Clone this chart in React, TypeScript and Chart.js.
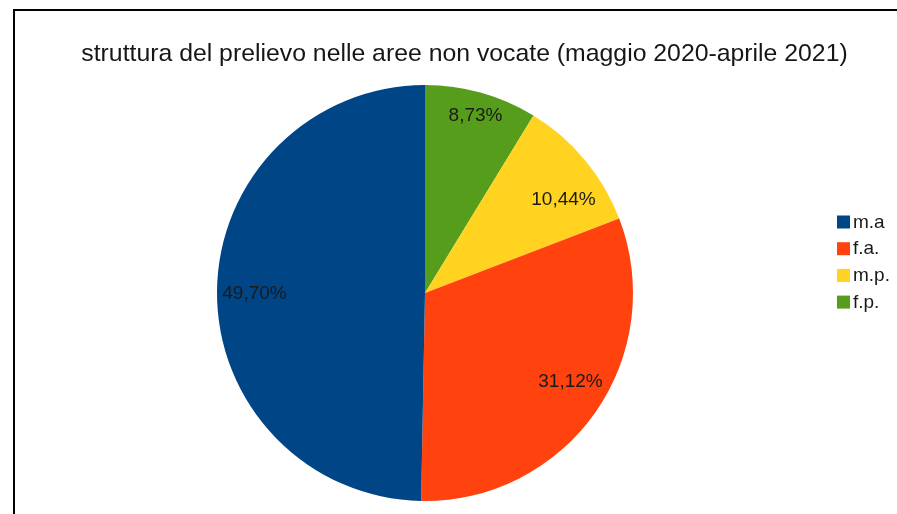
import React, { useEffect, useRef } from "react";
import { Chart, registerables } from "chart.js";

Chart.register(...registerables);

const TITLE = "struttura del prelievo nelle aree non vocate (maggio 2020-aprile 2021)";
const categories = ["m.a", "f.a.", "m.p.", "f.p."];
const shares = [49.7, 31.12, 10.44, 8.73];
const shareLabels = ["49,70%", "31,12%", "10,44%", "8,73%"];
const colors = ["#004586", "#ff420e", "#ffd320", "#579d1c"];

const FONT = "'Liberation Sans', Arial, sans-serif";

export default function App() {
  const ref = useRef<HTMLCanvasElement | null>(null);

  useEffect(() => {
    const canvas = ref.current;
    if (!canvas) return;
    // LibreOffice draws counter-clockwise from the top; Chart.js draws clockwise,
    // so the drawing order is reversed while the legend keeps the original order.
    const order = [3, 2, 1, 0];
    const labelPlugin = {
      id: "lo-decor",
      afterDraw(chart: any) {
        const ctx = chart.ctx as CanvasRenderingContext2D;
        ctx.save();
        // title
        ctx.fillStyle = "#161616";
        ctx.font = `24.8px ${FONT}`;
        ctx.textAlign = "center";
        ctx.textBaseline = "alphabetic";
        ctx.fillText(TITLE, 464.5, 61);

        const meta = chart.getDatasetMeta(0);
        ctx.font = `19px ${FONT}`;
        const capH = 14.5;
        const norm = (a: number) => {
          let v = a % (Math.PI * 2);
          if (v < 0) v += Math.PI * 2;
          return v;
        };
        meta.data.forEach((arc: any, i: number) => {
          const p = arc.getProps(["x", "y", "startAngle", "endAngle", "outerRadius"], true);
          const r = p.outerRadius;
          const mid = (p.startAngle + p.endAngle) / 2;
          const dx = Math.cos(mid);
          const dy = Math.sin(mid);
          const text = shareLabels[order[i]];
          const w = ctx.measureText(text).width;
          const hw = w / 2;
          const hh = capH / 2;
          // inner-corner placement: the corner nearest the centre sits on the mid ray
          const t0 = r * 0.665;
          const sx = Math.abs(dx) < 0.2 ? 0 : Math.sign(dx);
          const sy = Math.abs(dy) < 0.2 ? 0 : Math.sign(dy);
          let cx = p.x + dx * t0 + sx * hw;
          let cy = p.y + dy * t0 + sy * hh;
          const inside = (x: number, y: number) => {
            const ex = x - p.x;
            const ey = y - p.y;
            if (Math.hypot(ex, ey) > r) return false;
            const a = norm(Math.atan2(ey, ex) - p.startAngle);
            return a <= norm(p.endAngle - p.startAngle) || p.endAngle - p.startAngle >= Math.PI * 2;
          };
          const fits = [
            [cx - hw, cy - hh],
            [cx + hw, cy - hh],
            [cx - hw, cy + hh],
            [cx + hw, cy + hh],
          ].every(([x, y]) => inside(x, y));
          if (!fits) {
            // fallback: push outward until the farthest corner is near the rim
            const target = r * 0.97;
            let t = 0;
            for (let s = 0; s < 400; s++) {
              const fx = dx * t + Math.sign(dx || 1) * hw;
              const fy = dy * t + Math.sign(dy || 1) * hh;
              if (Math.hypot(fx, fy) >= target) break;
              t += 0.5;
            }
            cx = p.x + dx * t;
            cy = p.y + dy * t;
          }
          ctx.textAlign = "center";
          ctx.textBaseline = "alphabetic";
          ctx.fillStyle = "#1a1a1a";
          ctx.fillText(text, cx, cy + hh);
        });

        // legend
        ctx.font = `19px ${FONT}`;
        ctx.textAlign = "left";
        const y0 = 222;
        const step = 26.7;
        categories.forEach((c, i) => {
          const y = y0 + i * step;
          ctx.fillStyle = colors[i];
          ctx.fillRect(837, y - 6.5, 13, 13);
          ctx.fillStyle = "#1a1a1a";
          ctx.textBaseline = "alphabetic";
          ctx.fillText(c, 853, y + 5.5);
        });
        ctx.restore();
      },
    };

    const chart = new Chart(canvas, {
      type: "pie",
      data: {
        labels: order.map((k) => categories[k]),
        datasets: [
          {
            data: order.map((k) => shares[k]),
            backgroundColor: order.map((k) => colors[k]),
            borderWidth: 0,
          },
        ],
      },
      options: {
        responsive: false,
        animation: false,
        devicePixelRatio: 1,
        layout: { padding: { top: 85, bottom: 13, left: 216, right: 263 } },
        plugins: {
          legend: { display: false },
          title: { display: false },
          tooltip: { enabled: false },
        },
      },
      plugins: [labelPlugin],
    });
    return () => chart.destroy();
  }, []);

  return (
    <div
      style={{
        position: "fixed",
        left: 0,
        top: 0,
        width: 897,
        height: 514,
        overflow: "hidden",
        background: "#fff",
      }}
    >
      <div
        style={{
          position: "absolute",
          left: 13,
          top: 9,
          width: 1000,
          height: 700,
          border: "2.5px solid #000",
          boxSizing: "border-box",
        }}
      />
      <canvas
        ref={ref}
        width={897}
        height={514}
        style={{ position: "absolute", left: 0, top: 0, width: 897, height: 514 }}
      />
    </div>
  );
}
